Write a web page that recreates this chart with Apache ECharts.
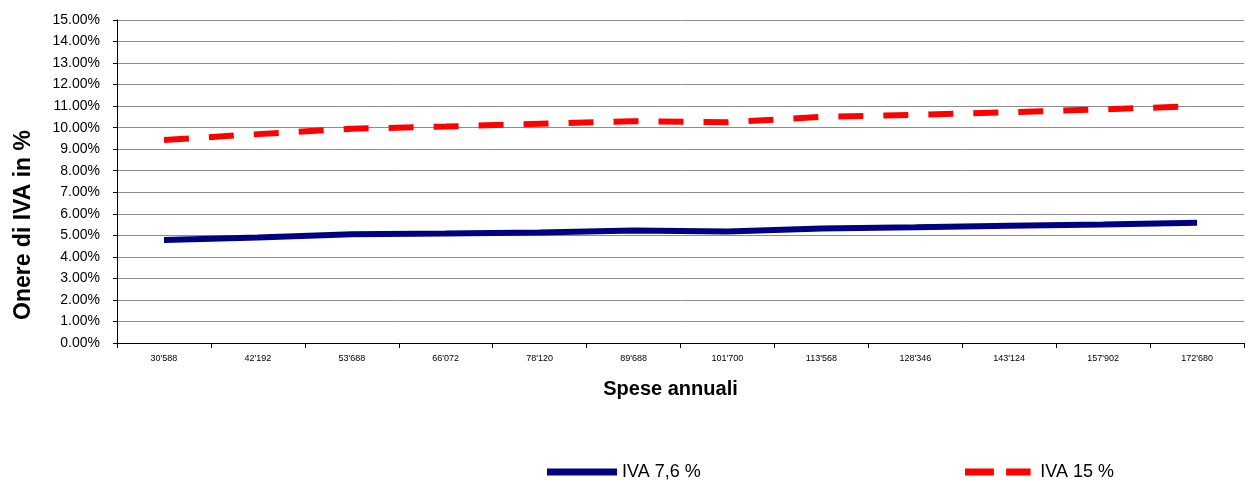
<!DOCTYPE html>
<html><head><meta charset="utf-8">
<script src="https://cdn.jsdelivr.net/npm/echarts@6/dist/echarts.min.js"></script>
<style>html,body{margin:0;padding:0;background:#fff}#c{width:1246px;height:480px}</style>
</head><body><div id="c"></div>
<script>
const categories = ["30'588","42'192","53'688","66'072","78'120","89'688","101'700","113'568","128'346","143'124","157'902","172'680"];
const iva76 = [4.78, 4.90, 5.05, 5.08, 5.13, 5.22, 5.18, 5.32, 5.38, 5.45, 5.50, 5.58];
const iva15 = [9.43, 9.70, 9.95, 10.05, 10.18, 10.30, 10.25, 10.50, 10.60, 10.72, 10.85, 11.00];
const seriesNames = ['IVA 7,6 %', 'IVA 15 %'];
const yTitle = 'Onere di IVA in %';
const xTitle = 'Spese annuali';

const chart = echarts.init(document.getElementById('c'));
const font = 'Liberation Sans, Arial, sans-serif';
chart.setOption({
  animation: false,
  grid: {left: 117, right: 2, top: 20, bottom: 137, containLabel: false},
  legend: [
    {data: [{name: seriesNames[0], icon: 'rect'}], left: 547, top: 463, padding: 0, itemWidth: 70, itemHeight: 7, itemGap: 0,
     textStyle: {fontFamily: font, fontSize: 18, color: '#000'}},
    {data: [{name: seriesNames[1], icon: 'path://M0,0h33v8h-33z M47,0h28v8h-28z'}], left: 965, top: 463, padding: 0, itemWidth: 75, itemHeight: 7,
     textStyle: {fontFamily: font, fontSize: 18, color: '#000'}}
  ],
  xAxis: {
    type: 'category', data: categories, boundaryGap: true,
    name: xTitle, nameLocation: 'middle', nameGap: 36,
    nameTextStyle: {fontFamily: font, fontSize: 20, fontWeight: 'bold', color: '#000', padding: [0, 20, 0, 0]},
    axisLine: {lineStyle: {color: '#000', width: 1}},
    axisTick: {show: true, length: 5, alignWithLabel: false, lineStyle: {color: '#000'}},
    axisLabel: {fontFamily: font, fontSize: 9, color: '#000', margin: 11, interval: 0},
    splitLine: {show: false}
  },
  yAxis: {
    type: 'value', min: 0, max: 15, interval: 1,
    axisLine: {show: true, lineStyle: {color: '#000', width: 1}},
    axisTick: {show: true, length: 4, lineStyle: {color: '#000'}},
    axisLabel: {fontFamily: font, fontSize: 14, color: '#000', margin: 17, formatter: v => v.toFixed(2) + '%'},
    splitLine: {show: true, lineStyle: {color: '#8c8c8c', width: 1}}
  },
  graphic: [{
    type: 'text', left: 12, top: 130,
    rotation: Math.PI / 2,
    style: {text: yTitle, fontFamily: font, fontSize: 23, fontWeight: 'bold', fill: '#000'}
  }],
  series: [
    {name: seriesNames[0], type: 'line', data: iva76, showSymbol: false, symbol: 'none',
     lineStyle: {color: '#000080', width: 6}, itemStyle: {color: '#000080'}},
    {name: seriesNames[1], type: 'line', data: iva15, showSymbol: false, symbol: 'none',
     lineStyle: {color: '#ff0000', width: 6, type: [25, 20]}, itemStyle: {color: '#ff0000'}}
  ]
});
</script></body></html>
